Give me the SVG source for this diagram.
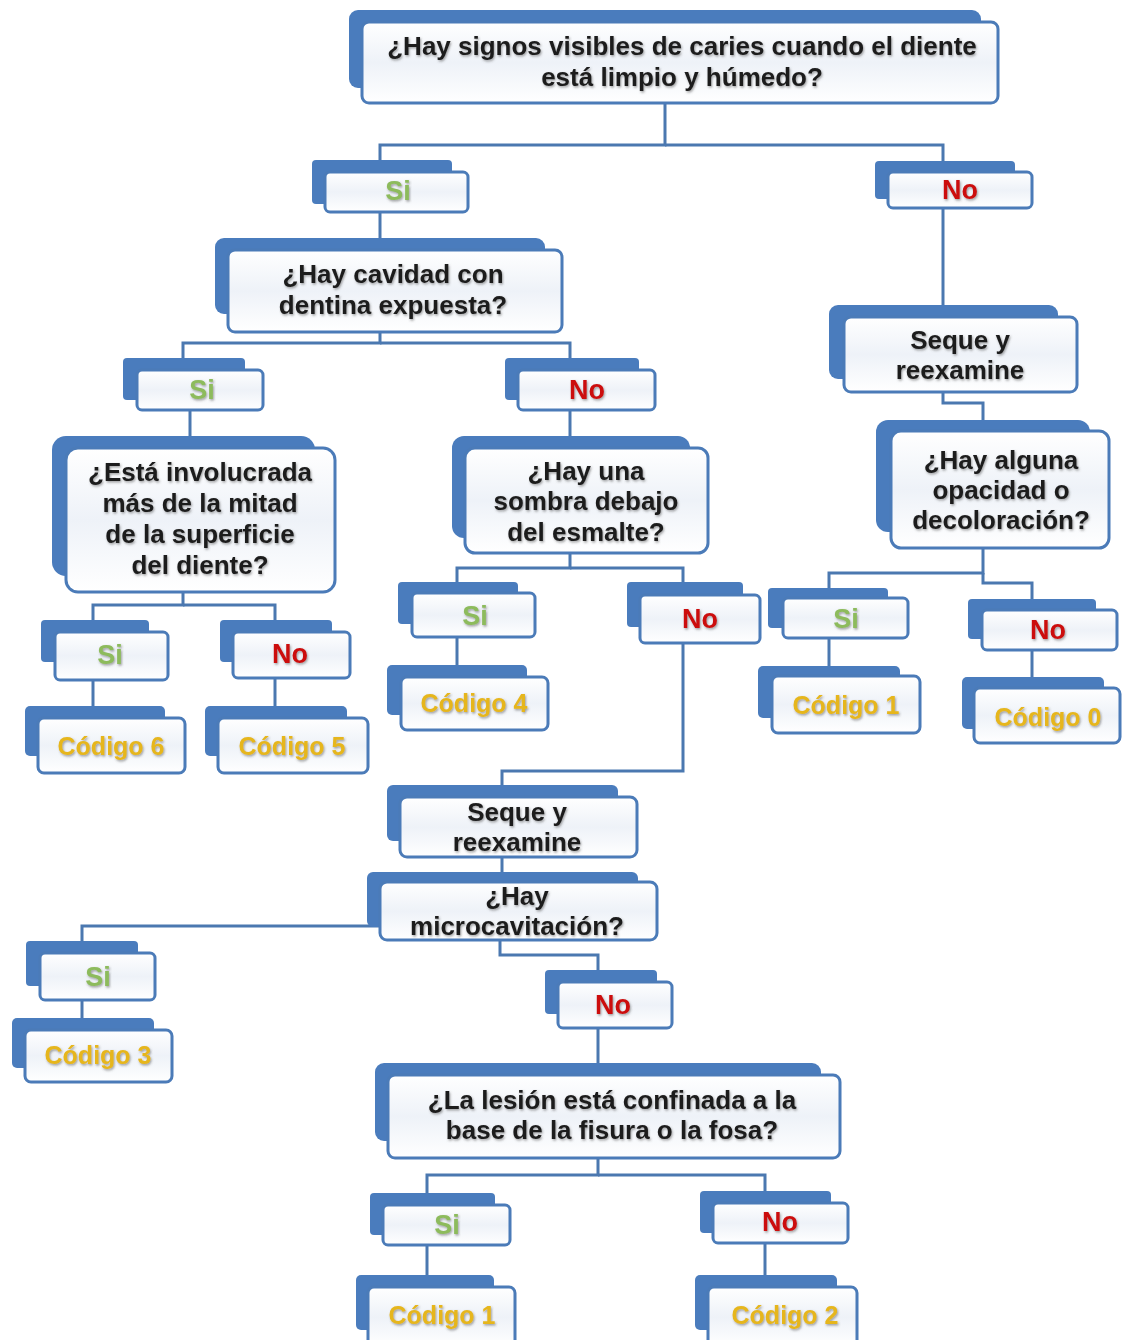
<svg xmlns="http://www.w3.org/2000/svg" width="1122" height="1340" viewBox="0 0 1122 1340">
<defs>
<linearGradient id="fg" x1="0" y1="0" x2="0" y2="1">
<stop offset="0" stop-color="#ffffff"/>
<stop offset="0.5" stop-color="#eef2f8"/>
<stop offset="1" stop-color="#ffffff"/>
</linearGradient>
<filter id="sh" x="-10%" y="-20%" width="120%" height="150%">
<feDropShadow dx="1" dy="1.5" stdDeviation="1" flood-color="#444" flood-opacity="0.5"/>
</filter>
</defs>
<style>
.back{fill:#4a7cbd}
.front{fill:url(#fg);stroke:#4b7bb8;stroke-width:3}
.con{fill:none;stroke:#4b78b0;stroke-width:3}
text{font-family:"Liberation Sans",Arial,sans-serif;font-weight:700;text-anchor:middle;filter:url(#sh)}
.q{font-size:26px;fill:#1c1c1c}
.si{font-size:27px;fill:#8dbb5c}
.no{font-size:27px;fill:#cc0d0d}
.cod{font-size:25px;fill:#e6b61e}
</style>
<rect width="1122" height="1340" fill="#ffffff"/>
<g id="connectors">
<path class="con" d="M665,103 V145 H380 V172"/>
<path class="con" d="M665,145 H943 V172"/>
<path class="con" d="M380,212 V250"/>
<path class="con" d="M380,332 V343 H183 V370"/>
<path class="con" d="M380,343 H570 V370"/>
<path class="con" d="M190,410 V448"/>
<path class="con" d="M570,410 V448"/>
<path class="con" d="M183,592 V605 H93 V632"/>
<path class="con" d="M183,605 H275 V632"/>
<path class="con" d="M93,680 V718"/>
<path class="con" d="M275,678 V718"/>
<path class="con" d="M570,553 V568 H457 V593"/>
<path class="con" d="M570,568 H683 V595"/>
<path class="con" d="M457,637 V678"/>
<path class="con" d="M683,643 V771 H502 V797"/>
<path class="con" d="M502,857 V882"/>
<path class="con" d="M380,926 H82 V953"/>
<path class="con" d="M500,940 V955 H598 V982"/>
<path class="con" d="M82,1000 V1030"/>
<path class="con" d="M598,1028 V1075"/>
<path class="con" d="M598,1158 V1175 H427 V1205"/>
<path class="con" d="M598,1175 H765 V1202"/>
<path class="con" d="M427,1243 V1288"/>
<path class="con" d="M765,1242 V1288"/>
<path class="con" d="M943,208 V316"/>
<path class="con" d="M943,392 V403 H983 V430"/>
<path class="con" d="M983,547 V573 H829 V598"/>
<path class="con" d="M983,573 V583 H1032 V610"/>
<path class="con" d="M829,638 V675"/>
<path class="con" d="M1032,650 V688"/>
</g>

<g id="n-root">
<rect class="back" x="349" y="10" width="632" height="78" rx="9"/>
<rect class="front" x="362" y="22" width="636" height="81" rx="7"/>
<text class="q" x="682" y="55">¿Hay signos visibles de caries cuando el diente</text>
<text class="q" x="682" y="86">está limpio y húmedo?</text>
</g>
<g id="n-si1">
<rect class="back" x="312" y="160" width="140" height="44" rx="4"/>
<rect class="front" x="325" y="172" width="143" height="40" rx="5"/>
<text class="si" x="398" y="200">Si</text>
</g>
<g id="n-no1">
<rect class="back" x="875" y="161" width="140" height="38" rx="4"/>
<rect class="front" x="888" y="172" width="144" height="36" rx="5"/>
<text class="no" x="960" y="199">No</text>
</g>
<g id="n-q2">
<rect class="back" x="215" y="238" width="330" height="76" rx="9"/>
<rect class="front" x="228" y="250" width="334" height="82" rx="7"/>
<text class="q" x="393" y="283">¿Hay cavidad con</text>
<text class="q" x="393" y="314">dentina expuesta?</text>
</g>
<g id="n-si2">
<rect class="back" x="123" y="358" width="122" height="42" rx="4"/>
<rect class="front" x="137" y="370" width="126" height="40" rx="5"/>
<text class="si" x="202" y="399">Si</text>
</g>
<g id="n-no2">
<rect class="back" x="505" y="358" width="134" height="42" rx="4"/>
<rect class="front" x="518" y="370" width="137" height="40" rx="5"/>
<text class="no" x="587" y="399">No</text>
</g>
<g id="n-q3">
<rect class="back" x="52" y="436" width="263" height="140" rx="14"/>
<rect class="front" x="66" y="448" width="269" height="144" rx="12"/>
<text class="q" x="200" y="481">¿Está involucrada</text>
<text class="q" x="200" y="512">más de la mitad</text>
<text class="q" x="200" y="543">de la superficie</text>
<text class="q" x="200" y="574">del diente?</text>
</g>
<g id="n-q4">
<rect class="back" x="452" y="436" width="238" height="102" rx="12"/>
<rect class="front" x="465" y="448" width="243" height="105" rx="10"/>
<text class="q" x="586" y="480">¿Hay una</text>
<text class="q" x="586" y="510">sombra debajo</text>
<text class="q" x="586" y="541">del esmalte?</text>
</g>
<g id="n-si3">
<rect class="back" x="41" y="620" width="108" height="42" rx="4"/>
<rect class="front" x="55" y="632" width="113" height="48" rx="5"/>
<text class="si" x="110" y="664">Si</text>
</g>
<g id="n-no3">
<rect class="back" x="220" y="620" width="112" height="42" rx="4"/>
<rect class="front" x="233" y="632" width="117" height="46" rx="5"/>
<text class="no" x="290" y="663">No</text>
</g>
<g id="n-c6">
<rect class="back" x="25" y="706" width="140" height="50" rx="5"/>
<rect class="front" x="38" y="718" width="147" height="55" rx="6"/>
<text class="cod" x="111" y="755">Código 6</text>
</g>
<g id="n-c5">
<rect class="back" x="205" y="706" width="142" height="50" rx="5"/>
<rect class="front" x="218" y="718" width="150" height="55" rx="6"/>
<text class="cod" x="292" y="755">Código 5</text>
</g>
<g id="n-si4">
<rect class="back" x="398" y="582" width="120" height="42" rx="4"/>
<rect class="front" x="412" y="593" width="123" height="44" rx="5"/>
<text class="si" x="475" y="625">Si</text>
</g>
<g id="n-no4">
<rect class="back" x="627" y="582" width="116" height="45" rx="4"/>
<rect class="front" x="640" y="595" width="120" height="48" rx="5"/>
<text class="no" x="700" y="628">No</text>
</g>
<g id="n-c4">
<rect class="back" x="387" y="665" width="140" height="50" rx="5"/>
<rect class="front" x="401" y="677" width="147" height="53" rx="6"/>
<text class="cod" x="474" y="712">Código 4</text>
</g>
<g id="n-seque2">
<rect class="back" x="387" y="785" width="231" height="56" rx="6"/>
<rect class="front" x="400" y="797" width="237" height="60" rx="7"/>
<text class="q" x="517" y="821">Seque y</text>
<text class="q" x="517" y="851">reexamine</text>
</g>
<g id="n-micro">
<rect class="back" x="367" y="872" width="271" height="55" rx="6"/>
<rect class="front" x="380" y="882" width="277" height="58" rx="7"/>
<text class="q" x="517" y="905">¿Hay</text>
<text class="q" x="517" y="935">microcavitación?</text>
</g>
<g id="n-si5">
<rect class="back" x="26" y="941" width="112" height="45" rx="4"/>
<rect class="front" x="40" y="953" width="115" height="47" rx="5"/>
<text class="si" x="98" y="986">Si</text>
</g>
<g id="n-c3">
<rect class="back" x="12" y="1018" width="142" height="50" rx="5"/>
<rect class="front" x="25" y="1030" width="147" height="52" rx="6"/>
<text class="cod" x="98" y="1064">Código 3</text>
</g>
<g id="n-no5">
<rect class="back" x="545" y="970" width="112" height="44" rx="4"/>
<rect class="front" x="558" y="982" width="114" height="46" rx="5"/>
<text class="no" x="613" y="1014">No</text>
</g>
<g id="n-lesion">
<rect class="back" x="375" y="1063" width="446" height="78" rx="9"/>
<rect class="front" x="388" y="1075" width="452" height="83" rx="7"/>
<text class="q" x="612" y="1109">¿La lesión está confinada a la</text>
<text class="q" x="612" y="1139">base de la fisura o la fosa?</text>
</g>
<g id="n-si6">
<rect class="back" x="370" y="1193" width="125" height="42" rx="4"/>
<rect class="front" x="383" y="1205" width="127" height="40" rx="5"/>
<text class="si" x="447" y="1234">Si</text>
</g>
<g id="n-no6">
<rect class="back" x="700" y="1191" width="131" height="42" rx="4"/>
<rect class="front" x="713" y="1203" width="135" height="40" rx="5"/>
<text class="no" x="780" y="1231">No</text>
</g>
<g id="n-c1b">
<rect class="back" x="356" y="1275" width="138" height="55" rx="5"/>
<rect class="front" x="368" y="1287" width="147" height="60" rx="6"/>
<text class="cod" x="442" y="1324">Código 1</text>
</g>
<g id="n-c2">
<rect class="back" x="695" y="1275" width="142" height="55" rx="5"/>
<rect class="front" x="708" y="1287" width="149" height="60" rx="6"/>
<text class="cod" x="785" y="1324">Código 2</text>
</g>
<g id="n-seque1">
<rect class="back" x="829" y="305" width="229" height="74" rx="9"/>
<rect class="front" x="844" y="317" width="233" height="75" rx="7"/>
<text class="q" x="960" y="349">Seque y</text>
<text class="q" x="960" y="379">reexamine</text>
</g>
<g id="n-opac">
<rect class="back" x="876" y="420" width="214" height="112" rx="12"/>
<rect class="front" x="891" y="431" width="218" height="117" rx="10"/>
<text class="q" x="1001" y="469">¿Hay alguna</text>
<text class="q" x="1001" y="499">opacidad o</text>
<text class="q" x="1001" y="529">decoloración?</text>
</g>
<g id="n-si7">
<rect class="back" x="768" y="588" width="120" height="40" rx="4"/>
<rect class="front" x="783" y="598" width="125" height="40" rx="5"/>
<text class="si" x="846" y="628">Si</text>
</g>
<g id="n-no7">
<rect class="back" x="968" y="599" width="128" height="40" rx="4"/>
<rect class="front" x="982" y="610" width="135" height="40" rx="5"/>
<text class="no" x="1048" y="639">No</text>
</g>
<g id="n-c1r">
<rect class="back" x="758" y="666" width="142" height="52" rx="5"/>
<rect class="front" x="772" y="676" width="148" height="57" rx="6"/>
<text class="cod" x="846" y="714">Código 1</text>
</g>
<g id="n-c0">
<rect class="back" x="962" y="677" width="142" height="52" rx="5"/>
<rect class="front" x="974" y="688" width="146" height="55" rx="6"/>
<text class="cod" x="1048" y="726">Código 0</text>
</g>
</svg>
